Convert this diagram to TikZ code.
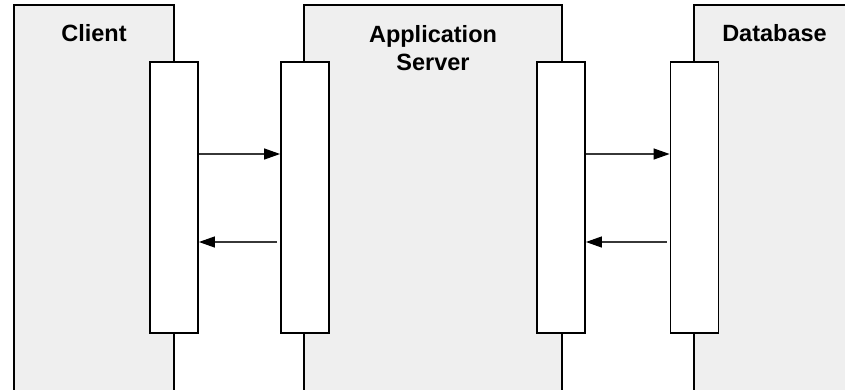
\documentclass[tikz,border=0pt]{standalone}
\usepackage{fontspec}
\setmainfont{Liberation Sans}
\usetikzlibrary{arrows.meta}
\definecolor{panelfill}{RGB}{239,239,239}
\definecolor{msgline}{RGB}{55,55,55}
\tikzset{
  panel/.style={draw=black, line width=1.8pt, fill=panelfill, rectangle, inner sep=0pt},
  bar/.style={draw=black, line width=1.8pt, fill=white, rectangle, inner sep=0pt,
              minimum width=48pt, minimum height=271pt},
  title/.style={font=\bfseries\fontsize{23.5}{28}\selectfont, align=center, inner sep=0pt},
  msg/.style={draw=msgline, line width=1.2pt,
              -{Triangle[length=16pt,width=11pt,color=black]}}
}
\begin{document}
\begin{tikzpicture}[x=1pt,y=-1pt]
  \useasboundingbox (0,0) rectangle (845,389);
  \clip (0,0) rectangle (845,389);

  % tiers
  \node[panel, minimum width=160pt, minimum height=390pt] (client) at (94,200) {};
  \node[panel, minimum width=258pt, minimum height=390pt] (app) at (433,200) {};
  \node[panel, minimum width=161pt, minimum height=390pt] (db) at (774.5,200) {};

  % tier names
  \node[title, anchor=base] (clientlbl) at (94,41) {Client};
  \node[title, anchor=base] (applbl) at (433,70) {Application\\Server};
  \node[title, anchor=base] (dblbl) at (774.5,41) {Database};

  % interface bars on the tier edges
  \node[bar] (cbar) at (174,197.5) {};
  \node[bar] (abarl) at (305,197.5) {};
  \node[bar] (abarr) at (561,197.5) {};
  \node[bar] (dbar) at (694.5,197.5) {};

  % request / response messages
  \draw[msg] ([yshift=43.5pt]cbar.east) -- ([yshift=43.5pt]abarl.west);
  \draw[msg] ([yshift=-44.5pt,xshift=-3pt]abarl.west) -- ([yshift=-44.5pt]cbar.east);
  \draw[msg] ([yshift=43.5pt]abarr.east) -- ([yshift=43.5pt]dbar.west);
  \draw[msg] ([yshift=-44.5pt,xshift=-3pt]dbar.west) -- ([yshift=-44.5pt]abarr.east);
\end{tikzpicture}
\end{document}
